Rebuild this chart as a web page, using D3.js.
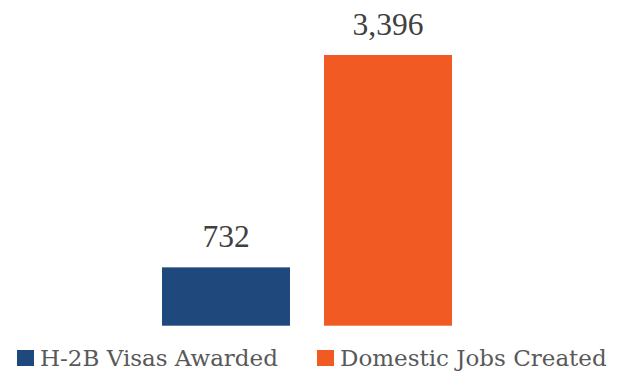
<!DOCTYPE html>
<html lang="en">
<head>
    <meta charset="UTF-8">
    <title>H-2B Visas vs Domestic Jobs</title>
    <script src="https://cdnjs.cloudflare.com/ajax/libs/d3/7.8.5/d3.min.js"></script>
    <style>
        body { margin: 0; background: #fff; }
        svg { display: block; }
    </style>
</head>
<body>
<svg id="chart" width="623" height="372"></svg>
<script>
// data
const categories = ["H-2B Visas Awarded", "Domestic Jobs Created"];
const values = [732, 3396];
const colors = ["#1f497d", "#f15a22"];

const svg = d3.select("#chart");

// scales
const x = d3.scaleBand()
    .domain(categories)
    .range([145, 469])
    .paddingInner(0.21)
    .paddingOuter(0.105);

const y = d3.scaleLinear()
    .domain([0, 3396])
    .range([325.7, 55]);

// bars
svg.selectAll("rect.bar")
    .data(categories)
    .enter()
    .append("rect")
    .attr("class", "bar")
    .attr("x", d => x(d))
    .attr("width", x.bandwidth())
    .attr("y", (d, i) => y(values[i]))
    .attr("height", (d, i) => y(0) - y(values[i]))
    .attr("fill", (d, i) => colors[i]);

// value labels
svg.selectAll("text.val")
    .data(categories)
    .enter()
    .append("text")
    .attr("class", "val")
    .attr("x", d => x(d) + x.bandwidth() / 2)
    .attr("y", (d, i) => y(values[i]) - 20)
    .attr("text-anchor", "middle")
    .style("font-family", "'Liberation Serif', serif")
    .style("font-size", "31.5px")
    .attr("fill", "#404040")
    .text((d, i) => d3.format(",")(values[i]));

// legend
const legendX = [17, 317];
const legend = svg.selectAll("g.legend")
    .data(categories)
    .enter()
    .append("g")
    .attr("class", "legend")
    .attr("transform", (d, i) => `translate(${legendX[i]},350)`);

legend.append("rect")
    .attr("width", 17)
    .attr("height", 16)
    .attr("fill", (d, i) => colors[i]);

legend.append("text")
    .attr("x", 23)
    .attr("y", 16)
    .style("font-family", "'DejaVu Serif', serif")
    .style("font-size", "23px")
    .attr("fill", "#595959")
    .text(d => d);
</script>
</body>
</html>
